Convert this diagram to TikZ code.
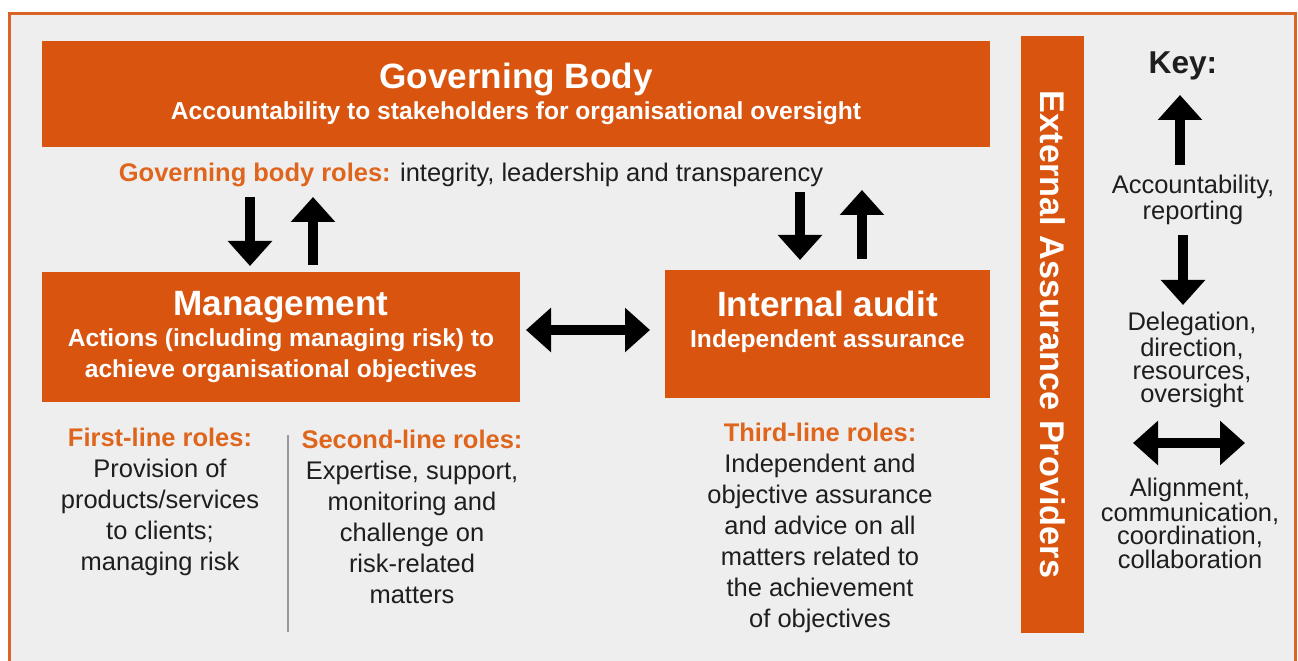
\documentclass[tikz,border=0pt]{standalone}
\usepackage{fontspec}
\setmainfont{Liberation Sans}
\usetikzlibrary{arrows.meta}
\definecolor{ccorange}{HTML}{D9540F}
\definecolor{ccframe}{HTML}{DA6426}
\definecolor{cclabel}{HTML}{E0651C}
\definecolor{ccback}{HTML}{EEEEEE}
\definecolor{cctext}{HTML}{1E1E1E}
\newcommand{\boxtitle}[1]{{\fontsize{20}{20}\selectfont #1}}
\newcommand{\rolehead}[1]{\textcolor{cclabel}{\bfseries #1}}

\begin{document}
\begin{tikzpicture}[x=0.02cm,y=-0.02cm,
    box/.style={fill=ccorange,text=white,align=center,inner sep=0pt,font=\fontsize{14}{17.6}\selectfont\bfseries},
    arr/.style={line width=0.2cm,-{Triangle[width=0.86cm,length=0.5cm]}},
    darr/.style={line width=0.2cm,{Triangle[width=0.86cm,length=0.5cm]}-{Triangle[width=0.86cm,length=0.5cm]}},
    txt/.style={align=center,text=cctext,inner sep=0pt,font=\fontsize{14.5}{17.6}\selectfont},
    keytxt/.style={align=center,text=cctext,inner sep=0pt,font=\fontsize{14.5}{13.2}\selectfont}]
                \useasboundingbox (0,0) rectangle (1298,661);
                \fill[white] (0,0) rectangle (1298,661);
                \draw[ccframe,line width=0.06cm,fill=ccback] (9.5,13.5) rectangle (1295.5,690);
                % boxes
                \node[box,minimum width=18.96cm,minimum height=2.12cm](GB) at (516,94) {\boxtitle{Governing Body}\\[0pt]Accountability to stakeholders for organisational oversight};
                \node[box,minimum width=9.56cm,minimum height=2.6cm](M) at (281,337) {\boxtitle{Management}\\Actions (including managing risk) to\\achieve organisational objectives};
                \node[box,minimum width=6.5cm,minimum height=2.56cm](IA) at (827.5,334) {};
                \node[box,fill=none](IAtext) at (827.5,322) {\boxtitle{Internal audit}\\Independent assurance};
                \node[box,rotate=-90,minimum width=11.94cm,minimum height=1.26cm,font=\fontsize{19.5}{20}\selectfont\bfseries](EAP) at (1052.5,334.5) {External Assurance Providers};
                % roles
                \node[txt](GBroles) at (471,175) {\rolehead{Governing body roles:} integrity, leadership and transparency};
                \node[txt](first) at (160,502) {\rolehead{First-line roles:}\\Provision of\\products/services\\to clients;\\managing risk};
                \node[txt](second) at (412,517) {\rolehead{Second-line roles:}\\Expertise, support,\\monitoring and\\challenge on\\risk-related\\matters};
                \node[txt](third) at (820,528) {\rolehead{Third-line roles:}\\Independent and\\objective assurance\\and advice on all\\matters related to\\the achievement\\of objectives};
                \draw[gray!80,line width=0.03cm] (288,435) -- (288,632);
                % arrows
                \coordinate (a1) at (250,197);
                \coordinate (a2) at (250,266);
                \coordinate (b1) at (313,265);
                \coordinate (b2) at (313,197);
                \coordinate (c1) at (800,192);
                \coordinate (c2) at (800,260);
                \coordinate (d1) at (862,259);
                \coordinate (d2) at (862,190);
                \coordinate (e1) at (526,330);
                \coordinate (e2) at (650,330);
                \draw[arr](a1)--(a2);
                \draw[arr](b1)--(b2);
                \draw[arr](c1)--(c2);
                \draw[arr](d1)--(d2);
                \draw[darr](e1)--(e2);
                % key
                \node[txt,font=\fontsize{18}{20}\selectfont\bfseries](key) at (1183,66) {Key:};
                \coordinate (k1) at (1180,165);
                \coordinate (k2) at (1180,95);
                \coordinate (k3) at (1183,235);
                \coordinate (k4) at (1183,305);
                \coordinate (k5) at (1133,443);
                \coordinate (k6) at (1245,443);
                \draw[arr](k1)--(k2);
                \draw[arr](k3)--(k4);
                \draw[darr](k5)--(k6);
                \node[keytxt](acc) at (1193,200) {Accountability,\\reporting};
                \node[keytxt](del) at (1192,360) {Delegation,\\direction,\\resources,\\oversight};
                \node[keytxt](ali) at (1190,523) {Alignment,\\communication,\\coordination,\\collaboration};
\end{tikzpicture}
\end{document}
